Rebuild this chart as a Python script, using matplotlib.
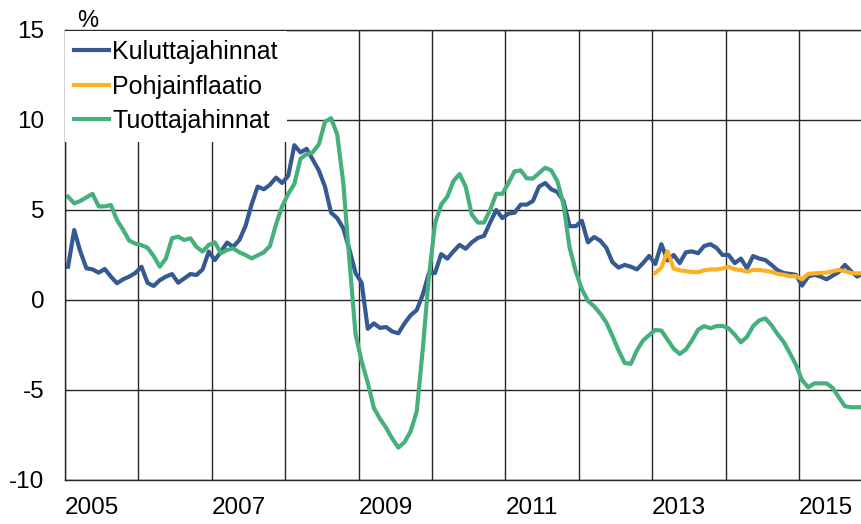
import matplotlib

matplotlib.use("Agg")

import matplotlib.pyplot as plt
import numpy as np

plt.rcParams["font.family"] = ["Liberation Sans", "DejaVu Sans"]
plt.rcParams["axes.unicode_minus"] = False

# Monthly year-on-year change, %, Jan 2005 onwards
kuluttajahinnat = [
    1.85, 3.89, 2.70, 1.76, 1.70, 1.52, 1.72, 1.30, 0.93, 1.15, 1.30, 1.50,
    1.85, 0.95, 0.78, 1.10, 1.30, 1.44, 0.96, 1.20, 1.44, 1.39, 1.70, 2.69,
    2.22, 2.69, 3.19, 2.96, 3.33, 4.10, 5.30, 6.30, 6.15, 6.40, 6.80, 6.50,
    6.90, 8.60, 8.20, 8.40, 7.80, 7.20, 6.30, 4.85, 4.55, 3.98, 2.80, 1.50,
    0.95, -1.60, -1.30, -1.55, -1.50, -1.75, -1.85, -1.30, -0.85, -0.56, 0.30, 1.50,
    1.50, 2.55, 2.30, 2.70, 3.06, 2.85, 3.20, 3.45, 3.56, 4.30, 5.00, 4.55,
    4.80, 4.85, 5.30, 5.30, 5.50, 6.30, 6.50, 6.15, 6.00, 5.50, 4.10, 4.10,
    4.40, 3.20, 3.50, 3.30, 2.90, 2.10, 1.80, 1.95, 1.85, 1.70, 2.05, 2.45,
    2.00, 3.10, 2.20, 2.50, 2.05, 2.65, 2.70, 2.60, 3.00, 3.10, 2.90, 2.50,
    2.50, 2.05, 2.30, 1.76, 2.44, 2.30, 2.22, 1.95, 1.65, 1.50, 1.45, 1.40,
    0.80, 1.30, 1.40, 1.30, 1.15, 1.35, 1.55, 1.95, 1.60, 1.30, 1.48,
]

# core inflation starts Jan 2013
pohjainflaatio = [
    1.50, 1.80, 2.70, 1.75, 1.65, 1.60, 1.55, 1.55, 1.65, 1.70, 1.70, 1.75,
    1.85, 1.70, 1.67, 1.57, 1.67, 1.67, 1.62, 1.57, 1.45, 1.40, 1.32, 1.33,
    1.15, 1.45, 1.48, 1.50, 1.52, 1.60, 1.67, 1.60, 1.50, 1.48, 1.48,
]
pohja_start = 96

tuottajahinnat = [
    5.74, 5.37, 5.50, 5.70, 5.90, 5.20, 5.20, 5.28, 4.44, 3.90, 3.30, 3.13,
    3.05, 2.90, 2.44, 1.85, 2.31, 3.43, 3.52, 3.33, 3.43, 2.95, 2.69, 3.06,
    3.20, 2.60, 2.78, 2.87, 2.65, 2.50, 2.31, 2.48, 2.65, 3.00, 4.20, 5.20,
    5.90, 6.45, 7.85, 8.10, 8.20, 8.65, 9.90, 10.10, 9.20, 6.50, 2.20, -1.90,
    -3.40, -4.60, -6.00, -6.60, -7.10, -7.70, -8.20, -7.90, -7.30, -6.20, -2.70, 1.30,
    4.26, 5.30, 5.74, 6.60, 7.00, 6.30, 4.75, 4.30, 4.30, 5.00, 5.90, 5.90,
    6.50, 7.15, 7.20, 6.76, 6.75, 7.05, 7.35, 7.20, 6.60, 5.30, 2.90, 1.60,
    0.60, -0.05, -0.35, -0.75, -1.25, -2.00, -2.80, -3.50, -3.55, -2.80, -2.25, -1.95,
    -1.67, -1.70, -2.20, -2.70, -3.00, -2.75, -2.25, -1.65, -1.45, -1.57, -1.45, -1.44,
    -1.57, -1.93, -2.35, -2.05, -1.45, -1.13, -1.02, -1.40, -1.90, -2.33, -2.95, -3.60,
    -4.45, -4.85, -4.63, -4.63, -4.63, -4.88, -5.40, -5.90, -5.96, -5.96, -5.96,
]

year_labels = ["2005", "", "2007", "", "2009", "", "2011", "", "2013", "", "2015"]

BLUE = "#345A91"
ORANGE = "#FBB025"
GREEN = "#45B07C"

# x in months since Jan 2005, points in the middle of each month
x_kul = np.arange(len(kuluttajahinnat)) + 0.5
x_poh = np.arange(len(pohjainflaatio)) + pohja_start + 0.5
x_tuo = np.arange(len(tuottajahinnat)) + 0.5

fig = plt.figure(figsize=(8.62, 5.24), dpi=100)
ax = fig.add_axes([65 / 862, 44 / 524, 1 - 65 / 862, 450 / 524])

ax.plot(x_kul, kuluttajahinnat, color=BLUE, lw=3, label="Kuluttajahinnat")
ax.plot(x_poh, pohjainflaatio, color=ORANGE, lw=3, label="Pohjainflaatio")
ax.plot(x_tuo, tuottajahinnat, color=GREEN, lw=3, label="Tuottajahinnat")

ax.set_xlim(0, 130.3)
ax.set_ylim(-10, 15)
ax.set_yticks(range(-10, 16, 5))
ax.set_xticks(np.arange(0, 121, 12))
ax.set_xticklabels(year_labels, ha="left")
ax.tick_params(axis="y", length=0, pad=15, labelsize=17.5)
ax.tick_params(axis="x", length=0, pad=12, labelsize=17.5)

ax.grid(True, color="#262626", lw=1.0)
ax.set_axisbelow(True)
ax.spines["right"].set_visible(False)
for side in ["left", "bottom", "top"]:
    ax.spines[side].set_color("#262626")
    ax.spines[side].set_linewidth(1.0)

ax.legend(loc="upper left", bbox_to_anchor=(0, 0.997), frameon=True,
          fancybox=False, edgecolor="none", facecolor="white", framealpha=1,
          fontsize=18, handlelength=1.4, handletextpad=0.15,
          labelspacing=0.42, borderpad=0.35, borderaxespad=0)

fig.text(77 / 862, 1 - 27 / 524, "%", fontsize=17, ha="left", va="baseline")

fig.savefig("out.png", dpi=100)
